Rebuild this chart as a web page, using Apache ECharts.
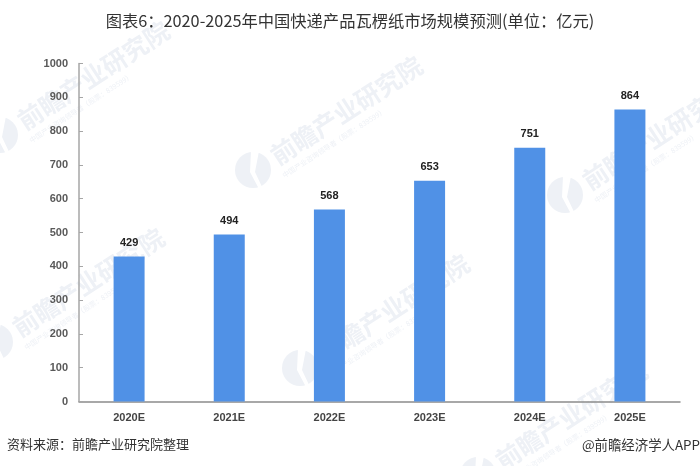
<!DOCTYPE html>
<html lang="zh">
<head>
    <meta charset="UTF-8">
    <title>图表6</title>
    <script src="https://cdn.jsdelivr.net/npm/echarts@6/dist/echarts.min.js"></script>
    <style>html,body{margin:0;padding:0;background:#fff;}</style>
</head>
<body>
<div id="main" style="width:700px;height:466px;"></div>
<script type="text/javascript">
    var categories = ['2020E', '2021E', '2022E', '2023E', '2024E', '2025E'];
    var values = [429, 494, 568, 653, 751, 864];
    var titleText = '图表6：2020-2025年中国快递产品瓦楞纸市场规模预测(单位：亿元)';
    var sourceText = '资料来源：前瞻产业研究院整理';
    var creditText = '@前瞻经济学人APP';
    var stamps = [[-18, 131], [235, 166], [547, 191], [-23, 338], [282, 364], [460, 471]];

    var cjk = '"Noto Sans CJK SC", sans-serif';
    var myChart = echarts.init(document.getElementById('main'));

    // watermark: logo blob + rotated name, drawn under the bars
    var marks = [];
    stamps.forEach(function (s) {
        var cx = s[0] + 18, cy = s[1] + 4;
        marks.push({
            type: 'circle', z: -1, silent: true,
            shape: {cx: cx, cy: cy, r: 18},
            style: {fill: '#eef1f6'}
        });
        marks.push({
            type: 'polygon', z: -1, silent: true,
            shape: {points: [[cx - 2, cy - 19], [cx + 6, cy - 19], [cx + 2, cy + 2], [cx + 10, cy + 19], [cx + 6, cy + 19], [cx - 3, cy + 2]]},
            style: {fill: '#fff'}
        });
        marks.push({
            type: 'text', z: -1, silent: true,
            x: cx + 20, y: cy - 12, rotation: 33 * Math.PI / 180,
            style: {text: '前瞻产业研究院', font: 'bold 25px ' + cjk, fill: '#eef1f6',
                verticalAlign: 'middle'}
        });
        marks.push({
            type: 'text', z: -1, silent: true,
            x: cx + 30, y: cy + 6, rotation: 33 * Math.PI / 180,
            style: {text: '中国产业咨询领导者（股票：839599）', font: '7px ' + cjk, fill: '#eef1f6',
                verticalAlign: 'middle'}
        });
    });
    marks.push({
        type: 'text', left: 7, top: 438,
        style: {text: sourceText, font: '13px ' + cjk, fill: '#333'}
    });
    marks.push({
        type: 'text', right: 0, top: 438,
        style: {text: creditText, font: '13.4px ' + cjk, fill: '#333'}
    });

    var option = {
        animation: false,
        backgroundColor: '#fff',
        title: {
            text: titleText,
            left: 'center',
            top: 8,
            textStyle: {fontFamily: cjk, fontSize: 16.3, fontWeight: 'normal', color: '#333'}
        },
        grid: {left: 79, right: 20, top: 63.5, bottom: 64.5},
        xAxis: {
            type: 'category',
            data: categories,
            axisLine: {lineStyle: {color: '#8c8c8c', width: 1.5}},
            axisTick: {show: false},
            axisLabel: {color: '#444', fontSize: 11, fontWeight: 'bold', margin: 11,
                fontFamily: 'Liberation Sans'}
        },
        yAxis: {
            type: 'value',
            min: 0,
            max: 1000,
            interval: 100,
            splitLine: {show: false},
            axisLine: {show: true, lineStyle: {color: '#a6a6a6', width: 1.5}},
            axisTick: {show: true, inside: true, length: 4, lineStyle: {color: '#a6a6a6'}},
            axisLabel: {color: '#595959', fontSize: 11, fontWeight: 'bold', margin: 11,
                fontFamily: 'Liberation Sans',
                formatter: function (v) { return String(v); }}
        },
        series: [{
            type: 'bar',
            data: values,
            barWidth: 31,
            itemStyle: {color: '#5091e6'},
            label: {
                show: true,
                position: 'top',
                distance: 8,
                color: '#222',
                fontSize: 11,
                fontWeight: 'bold',
                fontFamily: 'Liberation Sans'
            }
        }],
        graphic: marks
    };
    myChart.setOption(option);
</script>
</body>
</html>
